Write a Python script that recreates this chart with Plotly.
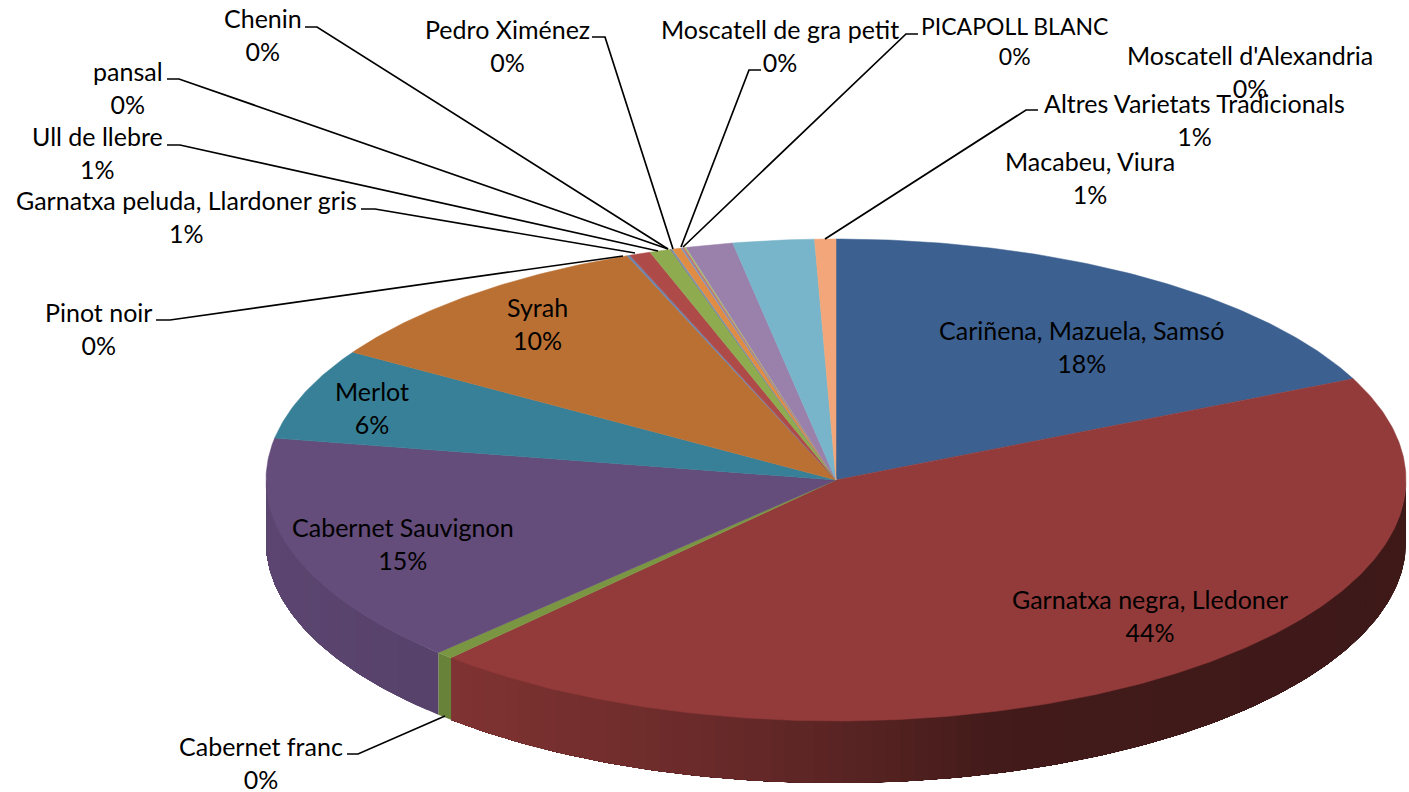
import numpy as np
import plotly.graph_objects as go

# --- data -------------------------------------------------------------
categories = ["Cariñena, Mazuela, Samsó", "Garnatxa negra, Lledoner", "Cabernet franc",
              "Cabernet Sauvignon", "Merlot", "Syrah", "Pinot noir",
              "Garnatxa peluda, Llardoner gris", "Ull de llebre", "pansal", "Chenin",
              "Pedro Ximénez", "Moscatell de gra petit", "PICAPOLL BLANC",
              "Moscatell d'Alexandria", "Macabeu, Viura", "", "Altres Varietats Tradicionals"]
values = [18.1, 43.7, 0.49, 15.49, 6.12, 10.13, 0.08, 0.6, 0.6, 0.03, 0.03,
          0.25, 0.05, 0.05, 0.05, 1.33, 2.3, 0.6]
colors = ["#3C6090", "#933B3A", "#7A9642", "#644C7B", "#378097", "#BB7033",
          "#6C86B0", "#AE4A48", "#8FAB50", "#8A74A0", "#5FA3BA", "#E08C44",
          "#7C98C4", "#C46C6A", "#A8BE72", "#9981AC", "#78B5CA", "#F2A679"]

# --- label placement: category index -> (centre x, centre y) ------------
label_pos = {0: (1081, 346), 1: (1150, 615), 2: (261, 762), 3: (403, 543), 4: (372, 407),
             5: (537, 323), 6: (98, 328), 7: (186, 216), 8: (97, 152), 9: (128, 87),
             10: (263, 34), 11: (507, 45), 12: (780, 45), 13: (1014, 41),
             14: (1250, 71), 15: (1090, 177), 17: (1194, 119)}
label_size = {13: 23}
leaders = [[(156, 320), (170, 320), (623, 256)],
           [(361, 209), (375, 209), (635, 253)],
           [(167, 145), (180, 145), (658, 251)],
           [(167, 79), (179, 79), (668, 249)],
           [(305, 27), (317, 27), (668, 249)],
           [(592, 37), (605, 37), (673, 249)],
           [(761, 70), (749, 70), (681, 247)],
           [(918, 34), (906, 34), (683, 247)],
           [(1038, 110), (1026, 110), (825, 239)],
           [(347, 754), (358, 754), (445, 716)]]

# --- geometry of the tilted pie ------------------------------------------
CX, CY, RX, RY, DEPTH = 836, 480, 570, 241, 62
FONT = "Lato"
FSIZE = 25


def rim(theta):
    return CX + RX * np.sin(theta), CY - RY * np.cos(theta)


def shade(hex_color, x):
    """Side-wall darkening: a horizontal gradient, dark towards the right."""
    k = np.interp(x, [266, 440, 450, 700, 830, 1000, 1409],
                  [0.92, 0.86, 0.87, 0.72, 0.62, 0.45, 0.42])
    r, g, b = (int(hex_color[i:i + 2], 16) for i in (1, 3, 5))
    return f"rgb({r * k:.0f},{g * k:.0f},{b * k:.0f})"


fractions = np.array(values) / np.sum(values)
edges = np.concatenate([[0], np.cumsum(fractions)]) * 2 * np.pi

fig = go.Figure()

# side wall: overlapping bands, each reaching to the end of its slice,
# so the gradient shows no seams between neighbouring bands
for i, color in enumerate(colors):
    a = max(edges[i], np.pi / 2)
    b = min(edges[i + 1], 3 * np.pi / 2)
    if b <= a:
        continue
    n = max(1, int((b - a) / 0.025))
    starts = np.linspace(a, b, n + 1)[:-1]
    for t0 in starts:
        t = np.linspace(t0, b, max(2, int((b - t0) / 0.01)))
        x, y = rim(t)
        c = shade(color, rim(t0 + (b - a) / n / 2)[0])
        fig.add_trace(go.Scatter(x=np.r_[x, x[::-1], x[0]],
                                 y=np.r_[y, y[::-1] + DEPTH, y[0]],
                                 mode="lines", fill="toself", fillcolor=c,
                                 line=dict(width=0), hoverinfo="skip"))

# top face
for i, color in enumerate(colors):
    t = np.linspace(edges[i], edges[i + 1], max(2, int((edges[i + 1] - edges[i]) / 0.01)))
    x, y = rim(t)
    fig.add_trace(go.Scatter(x=np.r_[CX, x, CX], y=np.r_[CY, y, CY],
                             mode="lines", fill="toself", fillcolor=color,
                             line=dict(color=color, width=0.5),
                             name=categories[i], hoverinfo="skip"))

# leader lines
for pts in leaders:
    fig.add_trace(go.Scatter(x=[p[0] for p in pts], y=[p[1] for p in pts], mode="lines",
                             line=dict(color="#000000", width=1.7), hoverinfo="skip"))

# labels
for i, (lx, ly) in label_pos.items():
    fig.add_annotation(x=lx, y=ly, xref="x", yref="y", showarrow=False,
                       text=f"{categories[i]}<br>{round(values[i])}%",
                       align="center", xanchor="center", yanchor="middle",
                       font=dict(family=FONT, size=label_size.get(i, FSIZE), color="#000000"))

fig.update_layout(width=1409, height=792, showlegend=False,
                  margin=dict(l=0, r=0, t=0, b=0),
                  paper_bgcolor="white", plot_bgcolor="white",
                  xaxis=dict(range=[0, 1409], visible=False, fixedrange=True),
                  yaxis=dict(range=[792, 0], visible=False, fixedrange=True))
fig.write_html("out.html", config={"displayModeBar": False},
               post_script="document.body.style.margin='0';")
